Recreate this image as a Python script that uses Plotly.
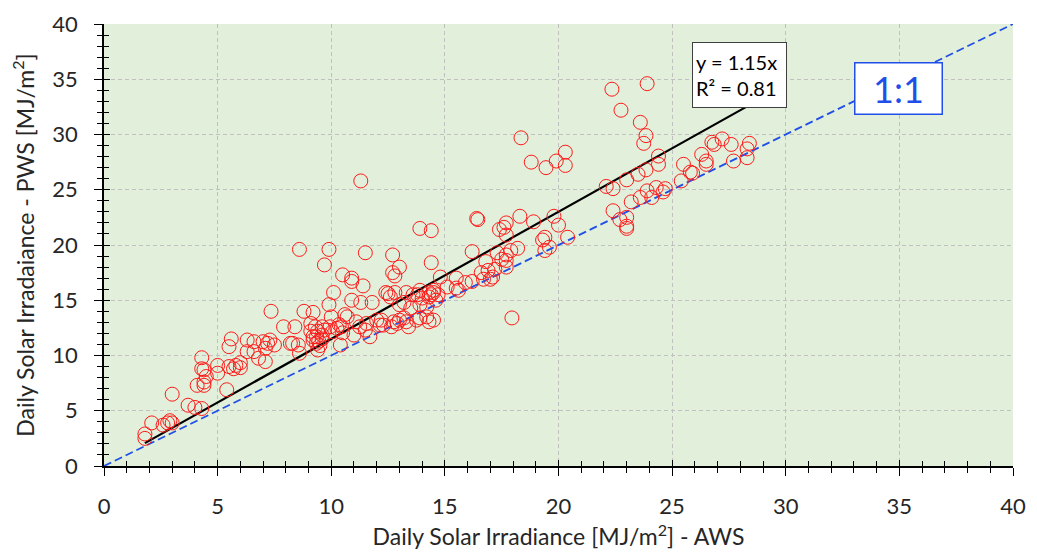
import plotly.graph_objects as go

# AWS (x) vs PWS (y) daily solar irradiance, MJ/m^2
aws = [1.8, 1.8, 2.1, 2.6, 2.8, 2.9, 3.0, 3.0, 3.7, 4.0, 4.3, 4.1, 4.4, 4.4, 4.3, 4.4, 4.5, 4.3,
       5.0, 5.0, 5.4, 5.5, 5.7, 6.0, 5.8, 6.0, 5.6, 5.5, 6.3, 6.3, 6.6, 6.6, 6.8, 7.1, 7.1, 7.2,
       7.0, 7.3, 7.5, 7.35, 7.9, 8.2, 8.4, 8.3, 8.55, 8.6, 8.6, 8.8, 9.2, 9.1, 9.3, 9.1, 9.2, 9.35,
       9.6, 9.4, 9.6, 9.7, 9.95, 10.05, 10.25, 10.35, 10.45, 10.5, 9.2, 9.35, 9.45, 9.5, 9.4, 9.6,
       9.9, 9.7, 10.0, 10.6, 10.7, 9.9, 10.1, 10.4, 10.5, 10.9, 10.9, 11.4, 10.9, 11.3, 11.8, 11.1,
       11.25, 11.5, 11.55, 11.0, 11.7, 11.3, 11.5, 12.7, 12.0, 12.2, 12.3, 12.15, 12.65, 12.75, 12.9,
       13.0, 13.2, 13.3, 13.4, 13.75, 13.9, 14.2, 14.3, 14.5, 12.4, 12.5, 12.8, 12.6, 13.3, 13.6,
       13.8, 14.3, 14.5, 14.3, 14.6, 12.7, 12.8, 13.0, 13.9, 14.4, 14.4, 13.9, 14.0, 13.2, 13.5,
       13.0, 13.9, 14.2, 14.8, 15.1, 14.7, 14.4, 14.5, 15.5, 15.5, 15.6, 15.9, 16.2, 16.2, 16.4,
       16.45, 16.8, 16.9, 17.2, 17.1, 16.6, 16.7, 17.0, 17.3, 17.4, 17.7, 17.6, 17.7, 17.9, 18.2,
       17.7, 17.5, 17.7, 17.7, 17.95, 18.3, 18.9, 18.35, 18.8, 19.45, 19.9, 20.3, 20.3, 19.8, 20.0,
       19.4, 19.3, 19.6, 19.4, 20.4, 22.1, 22.4, 22.35, 23.9, 22.75, 23.6, 23.85, 23.75, 23.0, 23.2,
       23.6, 23.9, 24.3, 24.7, 24.6, 24.1, 22.4, 22.7, 23.0, 23.0, 23.0, 23.85, 23.5, 24.4, 24.4,
       25.5, 25.4, 25.8, 25.9, 26.3, 26.5, 26.5, 26.75, 26.85, 27.2, 27.6, 27.7, 28.4, 28.3, 28.3]
pws = [2.5, 2.9, 3.9, 3.7, 3.9, 4.1, 3.9, 6.5, 5.5, 5.3, 5.2, 7.3, 7.6, 7.3, 8.8, 8.7, 8.1, 9.8,
       9.1, 8.4, 6.9, 9.0, 8.8, 8.9, 9.1, 9.35, 11.5, 10.8, 11.4, 10.35, 11.25, 10.35, 9.75, 9.45, 10.65, 11.1,
       11.25, 11.4, 10.95, 14.0, 12.6, 11.1, 12.6, 11.1, 10.95, 10.2, 19.6, 14.0, 13.9, 12.9, 12.6, 12.2, 11.7, 11.7,
       12.6, 12.2, 11.85, 12.3, 12.6, 12.15, 12.45, 12.8, 12.6, 12.05, 11.4, 11.1, 11.3, 10.9, 10.5, 11.5,
       19.6, 18.2, 13.5, 13.7, 13.5, 14.6, 15.7, 10.95, 17.3, 17.0, 16.7, 16.3, 15.0, 14.8, 14.8, 13.05,
       12.6, 12.3, 12.9, 11.85, 11.7, 25.8, 19.3, 19.1, 13.2, 13.2, 12.75, 12.75, 12.6, 13.05, 12.9,
       13.2, 13.4, 13.05, 12.6, 13.2, 13.4, 13.5, 13.05, 13.2, 15.7, 15.6, 15.7, 15.3, 15.7, 15.5,
       15.5, 15.7, 15.7, 15.3, 15.0, 17.5, 17.2, 18.0, 21.5, 21.3, 18.4, 15.9, 15.2, 14.8, 14.3,
       14.6, 14.6, 14.4, 17.1, 16.2, 15.5, 15.5, 15.9, 17.0, 16.1, 15.9, 16.6, 16.7, 19.4, 22.4,
       22.3, 18.5, 17.7, 17.8, 17.1, 17.5, 16.9, 16.9, 19.3, 21.4, 22.0, 21.6, 20.9, 19.5, 19.7,
       19.1, 18.7, 18.6, 18.0, 13.4, 22.6, 22.1, 29.7, 27.5, 27.0, 27.6, 28.4, 27.2, 22.6, 21.8,
       20.7, 20.45, 19.8, 19.5, 20.7, 25.3, 25.1, 34.1, 34.6, 32.2, 31.1, 29.9, 29.2, 25.9, 23.9,
       24.3, 24.9, 25.2, 25.1, 24.8, 24.3, 23.1, 22.3, 22.5, 21.7, 21.5, 26.8, 26.4, 28.05, 27.3,
       27.3, 25.8, 26.6, 26.5, 28.2, 27.6, 27.3, 29.3, 29.1, 29.6, 29.1, 27.6, 29.2, 28.7, 27.9]

slope = 1.15
r2 = 0.81
one_to_one = [0, 40]
tick_vals = [0, 5, 10, 15, 20, 25, 30, 35, 40]

FONT = "Lato, 'Open Sans', sans-serif"
BLUE = "#1f4fe8"

fit_x = [min(aws), max(aws)]
fit_y = [slope * v for v in fit_x]

fig = go.Figure()
fig.add_trace(go.Scatter(x=one_to_one, y=one_to_one, mode="lines",
                         line=dict(color=BLUE, width=1.8, dash="8px,4px"), showlegend=False))
fig.add_trace(go.Scatter(x=fit_x, y=fit_y, mode="lines",
                         line=dict(color="black", width=2.2), showlegend=False))
fig.add_trace(go.Scatter(x=aws, y=pws, mode="markers",
                         marker=dict(symbol="circle-open", size=14, color="#ff1a1a",
                                     line=dict(width=1.0, color="#ff1a1a")),
                         showlegend=False))
# invisible trace on overlay axes to get inward ticks
fig.add_trace(go.Scatter(x=[0], y=[0], xaxis="x2", yaxis="y2", mode="markers",
                         marker=dict(opacity=0), showlegend=False, hoverinfo="skip"))

common = dict(range=[0, 40], tickvals=tick_vals, showline=True, linecolor="black", linewidth=1.5,
              zeroline=False, tickcolor="black", tickwidth=1.2, automargin=False)

# the page body has an 8px margin, so the figure is drawn 8px in from the window edges
fig.update_layout(
    width=1029, height=545,
    margin=dict(l=96, r=24, t=16, b=87),
    paper_bgcolor="white", plot_bgcolor="#e2efda",
    font=dict(family=FONT, size=22, color="#262626"),
    xaxis=dict(**common, ticks="outside", ticklen=8, ticklabelstandoff=12,
               showgrid=True, gridcolor="#c0c0c0", griddash="4px,3px", gridwidth=1,
               minor=dict(dtick=1, ticks="outside", ticklen=5, tickcolor="black", showgrid=False),
               title=dict(text="Daily Solar Irradiance [MJ/m<sup>2</sup>] - AWS",
                          font=dict(size=23, color="#262626"), standoff=11)),
    yaxis=dict(**common, ticks="outside", ticklen=8, ticklabelstandoff=12,
               showgrid=True, gridcolor="#c0c0c0", griddash="4px,3px", gridwidth=1,
               minor=dict(dtick=1, ticks="outside", ticklen=5, tickcolor="black", showgrid=False),
               title=dict(text="Daily Solar Irradaiance - PWS [MJ/m<sup>2</sup>]",
                          font=dict(size=23, color="#262626"), standoff=17)),
    xaxis2=dict(overlaying="x", matches="x", range=[0, 40], tickvals=tick_vals, showticklabels=False,
                ticks="inside", ticklen=6, tickcolor="black", tickwidth=1.2, showgrid=False,
                zeroline=False, showline=False, side="bottom",
                minor=dict(dtick=1, ticks="inside", ticklen=5, tickcolor="black", showgrid=False)),
    yaxis2=dict(overlaying="y", matches="y", range=[0, 40], tickvals=tick_vals, showticklabels=False,
                ticks="inside", ticklen=6, tickcolor="black", tickwidth=1.2, showgrid=False,
                zeroline=False, showline=False, side="left",
                minor=dict(dtick=1, ticks="inside", ticklen=5, tickcolor="black", showgrid=False)),
    annotations=[
        dict(x=27.97, y=35.43, xref="x", yref="y", showarrow=False,
             text=f"y = {slope}x<br>R² = {r2}", align="left",
             font=dict(family=FONT, size=20, color="black"),
             bgcolor="white", bordercolor="#404040", borderwidth=1, borderpad=3,
             width=87, height=58),
        dict(x=34.94, y=34.2, xref="x", yref="y", showarrow=False,
             text="1:1", font=dict(family=FONT, size=36, color=BLUE),
             bgcolor="white", bordercolor=BLUE, borderwidth=1.5, borderpad=3,
             width=80, height=44),
    ],
)

fig.write_html("out.html")
